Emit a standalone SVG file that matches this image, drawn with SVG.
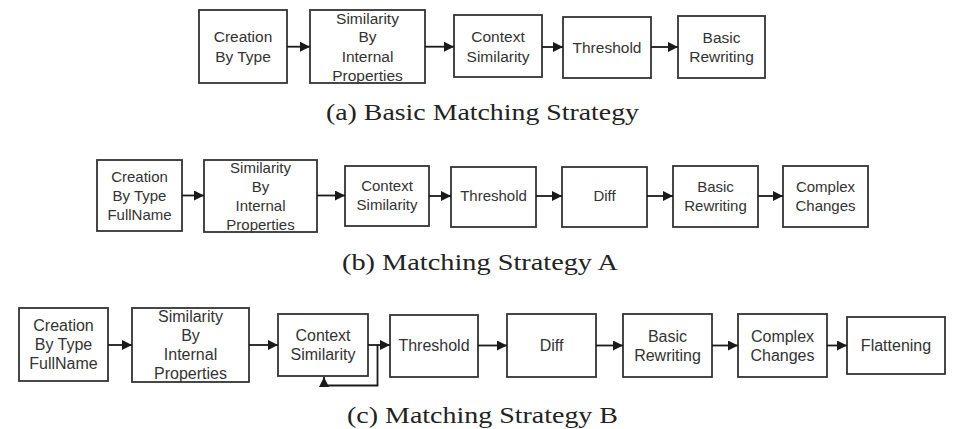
<svg xmlns="http://www.w3.org/2000/svg" width="960" height="429" viewBox="0 0 960 429">
<defs>
<marker id="ah" markerUnits="userSpaceOnUse" markerWidth="10" markerHeight="10" refX="10" refY="5" orient="auto">
<path d="M0,0 L10,5 L0,10 z" fill="#1a1a1a"/>
</marker>
<style>
.box{fill:#fff;stroke:#333;stroke-width:1.8}
.t{font-family:"Liberation Sans",Arial,sans-serif;fill:#333;text-anchor:middle}
.a{font-size:15.5px}
.b{font-size:15px}
.c{font-size:16px}
.cap{font-family:"Liberation Serif","Times New Roman",serif;font-size:23px;fill:#222}
.ln{fill:none;stroke:#1a1a1a;stroke-width:1.8;marker-end:url(#ah)}
</style>
</defs>
<rect width="960" height="429" fill="#fff"/>

<!-- Row (a) -->
<g id="a1"><rect class="box" x="199" y="10" width="88" height="73"/>
<text class="t a" x="243" y="42.2">Creation</text><text class="t a" x="243" y="61.5">By Type</text></g>
<g id="a2"><rect class="box" x="310" y="10" width="115" height="73"/>
<text class="t a" x="367.5" y="23.8">Similarity</text><text class="t a" x="367.5" y="42.2">By</text><text class="t a" x="367.5" y="61.5">Internal</text><text class="t a" x="367.5" y="80.5">Properties</text></g>
<g id="a3"><rect class="box" x="454" y="15" width="88" height="62"/>
<text class="t a" x="498" y="42.2">Context</text><text class="t a" x="498" y="61.5">Similarity</text></g>
<g id="a4"><rect class="box" x="563" y="17" width="88" height="61"/>
<text class="t a" x="607" y="52.5">Threshold</text></g>
<g id="a5"><rect class="box" x="678" y="16" width="87" height="62"/>
<text class="t a" x="721.5" y="42.8">Basic</text><text class="t a" x="721.5" y="62">Rewriting</text></g>
<text class="cap" x="326" y="120" textLength="313" lengthAdjust="spacingAndGlyphs">(a)  Basic Matching Strategy</text>

<!-- Row (b) -->
<g id="b1"><rect class="box" x="97" y="160" width="85" height="71"/>
<text class="t b" x="139.5" y="182">Creation</text><text class="t b" x="139.5" y="201">By Type</text><text class="t b" x="139.5" y="219.7">FullName</text></g>
<g id="b2"><rect class="box" x="204" y="160" width="113" height="72"/>
<text class="t b" x="260.5" y="172.8">Similarity</text><text class="t b" x="260.5" y="191.8">By</text><text class="t b" x="260.5" y="210.8">Internal</text><text class="t b" x="260.5" y="229.8">Properties</text></g>
<g id="b3"><rect class="box" x="345" y="166" width="84" height="60"/>
<text class="t b" x="387" y="191.3">Context</text><text class="t b" x="387" y="210.3">Similarity</text></g>
<g id="b4"><rect class="box" x="451" y="167" width="85" height="60"/>
<text class="t b" x="493.5" y="201.3">Threshold</text></g>
<g id="b5"><rect class="box" x="562" y="167" width="85" height="60"/>
<text class="t b" x="604.5" y="201.3">Diff</text></g>
<g id="b6"><rect class="box" x="673" y="166" width="85" height="61"/>
<text class="t b" x="715.5" y="192">Basic</text><text class="t b" x="715.5" y="210.5">Rewriting</text></g>
<g id="b7"><rect class="box" x="783" y="166" width="85" height="61"/>
<text class="t b" x="825.5" y="192">Complex</text><text class="t b" x="825.5" y="210.5">Changes</text></g>
<text class="cap" x="342" y="270" textLength="276" lengthAdjust="spacingAndGlyphs">(b)  Matching Strategy A</text>

<!-- Row (c) -->
<g id="c1"><rect class="box" x="19" y="308" width="89" height="73"/>
<text class="t c" x="63.5" y="331.2">Creation</text><text class="t c" x="63.5" y="350.2">By Type</text><text class="t c" x="63.5" y="369.2">FullName</text></g>
<g id="c2"><rect class="box" x="132" y="308" width="117" height="74"/>
<text class="t c" x="190.5" y="321.7">Similarity</text><text class="t c" x="190.5" y="341.2">By</text><text class="t c" x="190.5" y="360.2">Internal</text><text class="t c" x="190.5" y="379.2">Properties</text></g>
<g id="c3"><rect class="box" x="278" y="314" width="90" height="62"/>
<text class="t c" x="323" y="340.7">Context</text><text class="t c" x="323" y="360">Similarity</text></g>
<g id="c4"><rect class="box" x="390" y="315" width="88" height="62"/>
<text class="t c" x="434" y="350.7">Threshold</text></g>
<g id="c5"><rect class="box" x="507" y="314" width="89" height="63"/>
<text class="t c" x="551.5" y="350.7">Diff</text></g>
<g id="c6"><rect class="box" x="623" y="314" width="89" height="63"/>
<text class="t c" x="667.5" y="341.7">Basic</text><text class="t c" x="667.5" y="360.7">Rewriting</text></g>
<g id="c7"><rect class="box" x="738" y="314" width="89" height="63"/>
<text class="t c" x="782.5" y="341.7">Complex</text><text class="t c" x="782.5" y="360.7">Changes</text></g>
<g id="c8"><rect class="box" x="847" y="317" width="98" height="57"/>
<text class="t c" x="896" y="350.7">Flattening</text></g>
<text class="cap" x="347" y="423" textLength="271" lengthAdjust="spacingAndGlyphs">(c)  Matching Strategy B</text>

<g id="connectors">
<line class="ln" x1="287" y1="46.7" x2="310" y2="46.7"/>
<line class="ln" x1="425" y1="46.7" x2="454" y2="46.7"/>
<line class="ln" x1="542" y1="47" x2="563" y2="47"/>
<line class="ln" x1="651" y1="47" x2="678" y2="47"/>

<line class="ln" x1="182" y1="195.5" x2="204" y2="195.5"/>
<line class="ln" x1="317" y1="195.5" x2="345" y2="195.5"/>
<line class="ln" x1="429" y1="196" x2="451" y2="196"/>
<line class="ln" x1="536" y1="196" x2="562" y2="196"/>
<line class="ln" x1="647" y1="196" x2="673" y2="196"/>
<line class="ln" x1="758" y1="196" x2="783" y2="196"/>

<line class="ln" x1="108" y1="345" x2="132" y2="345"/>
<line class="ln" x1="249" y1="345" x2="278" y2="345"/>
<line class="ln" x1="368" y1="345" x2="390" y2="345"/>
<line class="ln" x1="478" y1="345.5" x2="507" y2="345.5"/>
<line class="ln" x1="596" y1="345.5" x2="623" y2="345.5"/>
<line class="ln" x1="712" y1="345.5" x2="738" y2="345.5"/>
<line class="ln" x1="827" y1="345.5" x2="847" y2="345.5"/>
<path class="ln" d="M377.5,345 V385.5 H324 V377"/>
</g>
</svg>
